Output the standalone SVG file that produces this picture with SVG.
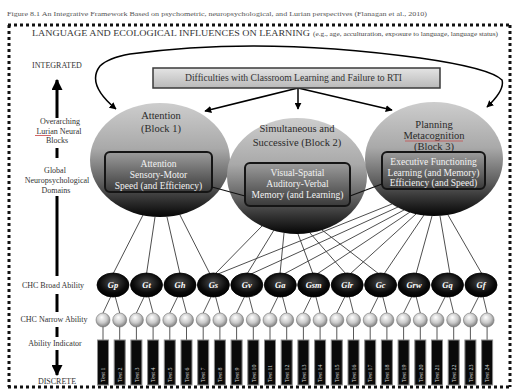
<svg xmlns="http://www.w3.org/2000/svg" width="515" height="389" viewBox="0 0 515 389">
<defs>
<linearGradient id="gCircle" x1="0" y1="0" x2="0" y2="1">
<stop offset="0" stop-color="#cdcdcd"/><stop offset="0.4" stop-color="#a9a9a9"/><stop offset="0.7" stop-color="#5e5e5e"/><stop offset="1" stop-color="#050505"/>
</linearGradient>
<linearGradient id="gBox" x1="0" y1="0" x2="0" y2="1">
<stop offset="0" stop-color="#9c9c9c"/><stop offset="1" stop-color="#3a3a3a"/>
</linearGradient>
<linearGradient id="gHead" x1="0" y1="0" x2="0" y2="1">
<stop offset="0" stop-color="#e4e4e4"/><stop offset="1" stop-color="#b9b9b9"/>
</linearGradient>
<radialGradient id="gBroad" cx="0.5" cy="0.4" r="0.6">
<stop offset="0" stop-color="#4a4a4a"/><stop offset="0.7" stop-color="#0a0a0a"/><stop offset="1" stop-color="#000"/>
</radialGradient>
<radialGradient id="gNarrow" cx="0.45" cy="0.4" r="0.6" fx="0.4" fy="0.3">
<stop offset="0" stop-color="#ffffff"/><stop offset="0.6" stop-color="#c9c9c9"/><stop offset="1" stop-color="#7d7d7d"/>
</radialGradient>
<marker id="ah" viewBox="0 0 10 10" refX="9" refY="5" markerWidth="7" markerHeight="7" markerUnits="userSpaceOnUse" orient="auto-start-reverse">
<path d="M0,0 L10,5 L0,10 z" fill="#000"/>
</marker>
<marker id="ahBig" viewBox="0 0 10 10" refX="9" refY="5" markerWidth="11" markerHeight="11" markerUnits="userSpaceOnUse" orient="auto">
<path d="M0,0 L10,5 L0,10 z" fill="#000"/>
</marker>
<style>
text{font-family:"Liberation Serif","Times New Roman",serif;}
.dots{stroke:#111;stroke-width:3;stroke-dasharray:3 3;fill:none;}
.lbl{font-size:8px;fill:#333;text-anchor:middle;}
.bar{stroke:#000;stroke-width:3;}
.blk{fill:url(#gCircle);}
.ctitle{font-size:10.5px;fill:#2a2a2a;text-anchor:middle;}
.ibox{fill:url(#gBox);stroke:#151515;stroke-width:2;}
.itxt{font-size:9.5px;fill:#f2f2f2;text-anchor:middle;}
.conn{stroke:#3a3a3a;stroke-width:0.9;fill:none;}
.arr{stroke:#000;stroke-width:1.5;fill:none;}
.broad{fill:url(#gBroad);stroke:#000;stroke-width:0.8;}
.btxt{font-size:8.5px;font-style:italic;font-weight:bold;fill:#fff;text-anchor:middle;}
.narrow{fill:url(#gNarrow);stroke:#777;stroke-width:0.6;}
.nl{stroke:#444;stroke-width:0.9;}
.ind{fill:#0a0a0a;stroke:#8a8a8a;stroke-width:1;}
.ttxt{font-size:6px;fill:#d8d8d8;}
</style>
</defs>

<rect width="515" height="389" fill="#fff"/>

<!-- caption and border -->
<text x="7" y="16" font-size="6.5" fill="#555" textLength="420" lengthAdjust="spacingAndGlyphs">Figure 8.1 An Integrative Framework Based on psychometric, neuropsychological, and Lurian perspectives (Flanagan et al., 2010)</text>
<g id="border">
<line class="dots" x1="8" y1="25" x2="511" y2="25"/>
<line class="dots" x1="9" y1="25" x2="9" y2="387"/>
<line class="dots" x1="510" y1="25" x2="510" y2="387"/>
<line class="dots" x1="8" y1="387" x2="511" y2="387" stroke="#666"/>
</g>
<text x="32" y="35.5" font-size="8" fill="#333" textLength="278" lengthAdjust="spacingAndGlyphs">LANGUAGE AND ECOLOGICAL INFLUENCES ON LEARNING</text>
<text x="313" y="35.5" font-size="7" fill="#444" textLength="185" lengthAdjust="spacingAndGlyphs">(e.g., age, acculturation, exposure to language, language status)</text>

<!-- left scale -->
<g id="scale">
<text class="lbl" x="57" y="68">INTEGRATED</text>
<line class="bar" x1="57" y1="118" x2="57" y2="80" marker-end="url(#ahBig)"/>
<text class="lbl" x="60" y="124">Overarching</text>
<text class="lbl" x="59" y="134">Lurian Neural</text>
<line x1="35" y1="135.5" x2="51" y2="135.5" stroke="#c84040" stroke-width="0.8"/>
<text class="lbl" x="57" y="143">Blocks</text>
<line class="bar" x1="57" y1="148" x2="57" y2="158"/>
<text class="lbl" x="55" y="173">Global</text>
<text class="lbl" x="57" y="183">Neuropsychological</text>
<text class="lbl" x="56" y="193">Domains</text>
<line class="bar" x1="57" y1="196" x2="57" y2="276"/>
<text class="lbl" x="53" y="288">CHC Broad Ability</text>
<line class="bar" x1="57" y1="294" x2="57" y2="312"/>
<text class="lbl" x="54" y="322">CHC Narrow Ability</text>
<line class="bar" x1="57" y1="327" x2="57" y2="337"/>
<text class="lbl" x="55" y="346">Ability Indicator</text>
<line class="bar" x1="57" y1="350" x2="57" y2="375" marker-end="url(#ahBig)"/>
<text class="lbl" x="57" y="384">DISCRETE</text>
</g>

<!-- connectors (behind nodes) -->
<g id="connectors">
<path class="arr" d="M116,109 Q86,84 100,66 Q108,58 130,54 Q260,36 420,58 Q490,68 502,80 Q505,90 487,107" marker-start="url(#ah)" marker-end="url(#ah)"/>
<line class="arr" x1="298" y1="88" x2="205" y2="111" marker-end="url(#ah)"/>
<line class="arr" x1="298" y1="88" x2="298" y2="109" marker-end="url(#ah)"/>
<line class="arr" x1="298" y1="88" x2="392" y2="110" marker-end="url(#ah)"/>
<!-- Block 1 -->
<line class="conn" x1="143" y1="215" x2="113" y2="274"/>
<line class="conn" x1="155" y1="217" x2="146.5" y2="274"/>
<line class="conn" x1="167" y1="217" x2="180" y2="274"/>
<line class="conn" x1="180" y1="215" x2="210" y2="274"/>
<!-- Block 2 -->
<line class="conn" x1="262" y1="226" x2="215" y2="274"/>
<line class="conn" x1="274" y1="230" x2="247" y2="274"/>
<line class="conn" x1="284" y1="233" x2="280" y2="274"/>
<line class="conn" x1="298" y1="234" x2="313" y2="274"/>
<line class="conn" x1="310" y1="233" x2="346" y2="274"/>
<line class="conn" x1="322" y1="230" x2="379" y2="274"/>
<!-- Block 3 -->
<line class="conn" x1="392" y1="204" x2="218" y2="274"/>
<line class="conn" x1="398" y1="207" x2="251" y2="274"/>
<line class="conn" x1="404" y1="210" x2="284" y2="274"/>
<line class="conn" x1="410" y1="212" x2="317" y2="274"/>
<line class="conn" x1="416" y1="214" x2="350" y2="274"/>
<line class="conn" x1="424" y1="215" x2="384" y2="274"/>
<line class="conn" x1="432" y1="216" x2="416" y2="274"/>
<line class="conn" x1="440" y1="216" x2="450" y2="274"/>
<line class="conn" x1="448" y1="215" x2="482" y2="274"/>
<!-- broad to narrow -->
<line class="nl" x1="111" y1="296" x2="103" y2="313"/><line class="nl" x1="115" y1="296" x2="119.7" y2="313"/>
<line class="nl" x1="144.5" y1="296" x2="136.4" y2="313"/><line class="nl" x1="148.5" y1="296" x2="153.1" y2="313"/>
<line class="nl" x1="178" y1="296" x2="169.8" y2="313"/><line class="nl" x1="182" y1="296" x2="186.5" y2="313"/>
<line class="nl" x1="211.4" y1="296" x2="203.2" y2="313"/><line class="nl" x1="215.4" y1="296" x2="219.9" y2="313"/>
<line class="nl" x1="244.8" y1="296" x2="236.6" y2="313"/><line class="nl" x1="248.8" y1="296" x2="253.3" y2="313"/>
<line class="nl" x1="278.3" y1="296" x2="270" y2="313"/><line class="nl" x1="282.3" y1="296" x2="286.7" y2="313"/>
<line class="nl" x1="311.7" y1="296" x2="303.4" y2="313"/><line class="nl" x1="315.7" y1="296" x2="320.1" y2="313"/>
<line class="nl" x1="345.2" y1="296" x2="336.8" y2="313"/><line class="nl" x1="349.2" y1="296" x2="353.5" y2="313"/>
<line class="nl" x1="378.6" y1="296" x2="370.2" y2="313"/><line class="nl" x1="382.6" y1="296" x2="386.9" y2="313"/>
<line class="nl" x1="412" y1="296" x2="403.6" y2="313"/><line class="nl" x1="416" y1="296" x2="420.3" y2="313"/>
<line class="nl" x1="445.5" y1="296" x2="437" y2="313"/><line class="nl" x1="449.5" y1="296" x2="453.7" y2="313"/>
<line class="nl" x1="479" y1="296" x2="470.4" y2="313"/><line class="nl" x1="483" y1="296" x2="487.1" y2="313"/>
<!-- narrow to indicator -->
<g class="nl">
<line x1="103" y1="326" x2="103" y2="340"/><line x1="119.7" y1="326" x2="119.7" y2="340"/>
<line x1="136.4" y1="326" x2="136.4" y2="340"/><line x1="153.1" y1="326" x2="153.1" y2="340"/>
<line x1="169.8" y1="326" x2="169.8" y2="340"/><line x1="186.5" y1="326" x2="186.5" y2="340"/>
<line x1="203.2" y1="326" x2="203.2" y2="340"/><line x1="219.9" y1="326" x2="219.9" y2="340"/>
<line x1="236.6" y1="326" x2="236.6" y2="340"/><line x1="253.3" y1="326" x2="253.3" y2="340"/>
<line x1="270" y1="326" x2="270" y2="340"/><line x1="286.7" y1="326" x2="286.7" y2="340"/>
<line x1="303.4" y1="326" x2="303.4" y2="340"/><line x1="320.1" y1="326" x2="320.1" y2="340"/>
<line x1="336.8" y1="326" x2="336.8" y2="340"/><line x1="353.5" y1="326" x2="353.5" y2="340"/>
<line x1="370.2" y1="326" x2="370.2" y2="340"/><line x1="386.9" y1="326" x2="386.9" y2="340"/>
<line x1="403.6" y1="326" x2="403.6" y2="340"/><line x1="420.3" y1="326" x2="420.3" y2="340"/>
<line x1="437" y1="326" x2="437" y2="340"/><line x1="453.7" y1="326" x2="453.7" y2="340"/>
<line x1="470.4" y1="326" x2="470.4" y2="340"/><line x1="487.1" y1="326" x2="487.1" y2="340"/>
</g>
</g>

<!-- header node -->
<g id="difficulty">
<rect x="153" y="68" width="287" height="20" fill="url(#gHead)" stroke="#3a3a3a" stroke-width="1.5"/>
<text x="185" y="81" font-size="9.5" fill="#333" textLength="217" lengthAdjust="spacingAndGlyphs">Difficulties with Classroom Learning and Failure to RTI</text>
</g>

<!-- Block nodes -->
<g id="block1">
<ellipse class="blk" cx="160" cy="160" rx="70" ry="57"/>
<text class="ctitle" x="161" y="119">Attention</text>
<text class="ctitle" x="161" y="132">(Block 1)</text>
<rect class="ibox" x="105" y="152" width="107" height="40" rx="5"/>
<text class="itxt" x="158.5" y="167">Attention</text>
<text class="itxt" x="158.5" y="178">Sensory-Motor</text>
<text class="itxt" x="158.5" y="189">Speed (and Efficiency)</text>
</g>
<g id="block2">
<ellipse class="blk" cx="297" cy="176" rx="70" ry="58"/>
<text class="ctitle" x="297" y="132">Simultaneous and</text>
<text class="ctitle" x="297" y="146">Successive (Block 2)</text>
<rect class="ibox" x="245" y="163" width="105" height="43" rx="5"/>
<text class="itxt" x="297.5" y="176">Visual-Spatial</text>
<text class="itxt" x="297.5" y="187">Auditory-Verbal</text>
<text class="itxt" x="297.5" y="198">Memory (and Learning)</text>
</g>
<g id="block3">
<ellipse class="blk" cx="434" cy="159" rx="69" ry="57"/>
<text class="ctitle" x="434" y="128">Planning</text>
<text class="ctitle" x="434" y="139">Metacognition</text>
<line x1="405" y1="141" x2="463" y2="141" stroke="#c84040" stroke-width="0.7"/>
<text class="ctitle" x="434" y="149.5">(Block 3)</text>
<rect class="ibox" x="382" y="152" width="103" height="37" rx="5"/>
<text class="itxt" x="433.5" y="165">Executive Functioning</text>
<text class="itxt" x="433.5" y="175.5">Learning (and Memory)</text>
<text class="itxt" x="433.5" y="186">Efficiency (and Speed)</text>
</g>

<g id="box-links">
<line x1="212" y1="187" x2="245" y2="196" stroke="#111" stroke-width="1.2"/>
<line x1="350" y1="196" x2="382" y2="184" stroke="#111" stroke-width="1.2"/>
</g>

<!-- broad abilities -->
<g id="broad">
<g id="gp"><ellipse class="broad" cx="113" cy="285" rx="16" ry="12"/><text class="btxt" x="113" y="288">Gp</text></g>
<g id="gt"><ellipse class="broad" cx="146.5" cy="285" rx="16" ry="12"/><text class="btxt" x="146.5" y="288">Gt</text></g>
<g id="gh"><ellipse class="broad" cx="180" cy="285" rx="16" ry="12"/><text class="btxt" x="180" y="288">Gh</text></g>
<g id="gs"><ellipse class="broad" cx="213.4" cy="285" rx="16" ry="12"/><text class="btxt" x="213.4" y="288">Gs</text></g>
<g id="gv"><ellipse class="broad" cx="246.8" cy="285" rx="16" ry="12"/><text class="btxt" x="246.8" y="288">Gv</text></g>
<g id="ga"><ellipse class="broad" cx="280.3" cy="285" rx="16" ry="12"/><text class="btxt" x="280.3" y="288">Ga</text></g>
<g id="gsm"><ellipse class="broad" cx="313.7" cy="285" rx="16" ry="12"/><text class="btxt" x="313.7" y="288">Gsm</text></g>
<g id="glr"><ellipse class="broad" cx="347.2" cy="285" rx="16" ry="12"/><text class="btxt" x="347.2" y="288">Glr</text></g>
<g id="gc"><ellipse class="broad" cx="380.6" cy="285" rx="16" ry="12"/><text class="btxt" x="380.6" y="288">Gc</text></g>
<g id="grw"><ellipse class="broad" cx="414" cy="285" rx="16" ry="12"/><text class="btxt" x="414" y="288">Grw</text></g>
<g id="gq"><ellipse class="broad" cx="447.5" cy="285" rx="16" ry="12"/><text class="btxt" x="447.5" y="288">Gq</text></g>
<g id="gf"><ellipse class="broad" cx="481" cy="285" rx="16" ry="12"/><text class="btxt" x="481" y="288">Gf</text></g>
</g>

<!-- narrow abilities -->
<g id="narrow">
<circle class="narrow" cx="103" cy="320" r="7"/><circle class="narrow" cx="119.7" cy="320" r="7"/>
<circle class="narrow" cx="136.4" cy="320" r="7"/><circle class="narrow" cx="153.1" cy="320" r="7"/>
<circle class="narrow" cx="169.8" cy="320" r="7"/><circle class="narrow" cx="186.5" cy="320" r="7"/>
<circle class="narrow" cx="203.2" cy="320" r="7"/><circle class="narrow" cx="219.9" cy="320" r="7"/>
<circle class="narrow" cx="236.6" cy="320" r="7"/><circle class="narrow" cx="253.3" cy="320" r="7"/>
<circle class="narrow" cx="270" cy="320" r="7"/><circle class="narrow" cx="286.7" cy="320" r="7"/>
<circle class="narrow" cx="303.4" cy="320" r="7"/><circle class="narrow" cx="320.1" cy="320" r="7"/>
<circle class="narrow" cx="336.8" cy="320" r="7"/><circle class="narrow" cx="353.5" cy="320" r="7"/>
<circle class="narrow" cx="370.2" cy="320" r="7"/><circle class="narrow" cx="386.9" cy="320" r="7"/>
<circle class="narrow" cx="403.6" cy="320" r="7"/><circle class="narrow" cx="420.3" cy="320" r="7"/>
<circle class="narrow" cx="437" cy="320" r="7"/><circle class="narrow" cx="453.7" cy="320" r="7"/>
<circle class="narrow" cx="470.4" cy="320" r="7"/><circle class="narrow" cx="487.1" cy="320" r="7"/>
</g>

<!-- ability indicators -->
<g id="indicators">
<rect class="ind" x="97.5" y="340" width="11" height="45"/><text class="ttxt" transform="translate(105.2,382) rotate(-90)">Test 1</text>
<rect class="ind" x="114.2" y="340" width="11" height="45"/><text class="ttxt" transform="translate(121.9,382) rotate(-90)">Test 2</text>
<rect class="ind" x="130.9" y="340" width="11" height="45"/><text class="ttxt" transform="translate(138.6,382) rotate(-90)">Test 3</text>
<rect class="ind" x="147.6" y="340" width="11" height="45"/><text class="ttxt" transform="translate(155.3,382) rotate(-90)">Test 4</text>
<rect class="ind" x="164.3" y="340" width="11" height="45"/><text class="ttxt" transform="translate(172,382) rotate(-90)">Test 5</text>
<rect class="ind" x="181" y="340" width="11" height="45"/><text class="ttxt" transform="translate(188.7,382) rotate(-90)">Test 6</text>
<rect class="ind" x="197.7" y="340" width="11" height="45"/><text class="ttxt" transform="translate(205.4,382) rotate(-90)">Test 7</text>
<rect class="ind" x="214.4" y="340" width="11" height="45"/><text class="ttxt" transform="translate(222.1,382) rotate(-90)">Test 8</text>
<rect class="ind" x="231.1" y="340" width="11" height="45"/><text class="ttxt" transform="translate(238.8,382) rotate(-90)">Test 9</text>
<rect class="ind" x="247.8" y="340" width="11" height="45"/><text class="ttxt" transform="translate(255.5,382) rotate(-90)">Test 10</text>
<rect class="ind" x="264.5" y="340" width="11" height="45"/><text class="ttxt" transform="translate(272.2,382) rotate(-90)">Test 11</text>
<rect class="ind" x="281.2" y="340" width="11" height="45"/><text class="ttxt" transform="translate(288.9,382) rotate(-90)">Test 12</text>
<rect class="ind" x="297.9" y="340" width="11" height="45"/><text class="ttxt" transform="translate(305.6,382) rotate(-90)">Test 13</text>
<rect class="ind" x="314.6" y="340" width="11" height="45"/><text class="ttxt" transform="translate(322.3,382) rotate(-90)">Test 14</text>
<rect class="ind" x="331.3" y="340" width="11" height="45"/><text class="ttxt" transform="translate(339,382) rotate(-90)">Test 15</text>
<rect class="ind" x="348" y="340" width="11" height="45"/><text class="ttxt" transform="translate(355.7,382) rotate(-90)">Test 16</text>
<rect class="ind" x="364.7" y="340" width="11" height="45"/><text class="ttxt" transform="translate(372.4,382) rotate(-90)">Test 17</text>
<rect class="ind" x="381.4" y="340" width="11" height="45"/><text class="ttxt" transform="translate(389.1,382) rotate(-90)">Test 18</text>
<rect class="ind" x="398.1" y="340" width="11" height="45"/><text class="ttxt" transform="translate(405.8,382) rotate(-90)">Test 19</text>
<rect class="ind" x="414.8" y="340" width="11" height="45"/><text class="ttxt" transform="translate(422.5,382) rotate(-90)">Test 20</text>
<rect class="ind" x="431.5" y="340" width="11" height="45"/><text class="ttxt" transform="translate(439.2,382) rotate(-90)">Test 21</text>
<rect class="ind" x="448.2" y="340" width="11" height="45"/><text class="ttxt" transform="translate(455.9,382) rotate(-90)">Test 22</text>
<rect class="ind" x="464.9" y="340" width="11" height="45"/><text class="ttxt" transform="translate(472.6,382) rotate(-90)">Test 23</text>
<rect class="ind" x="481.6" y="340" width="11" height="45"/><text class="ttxt" transform="translate(489.3,382) rotate(-90)">Test 24</text>
</g>
</svg>
